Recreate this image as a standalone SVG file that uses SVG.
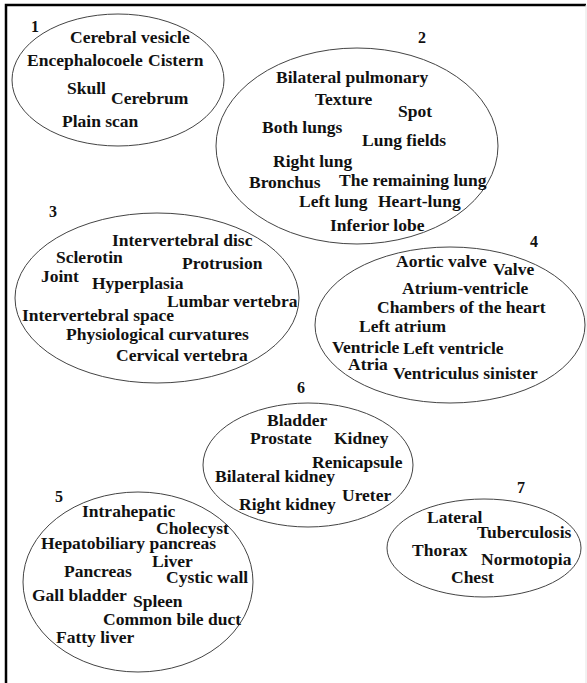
<svg xmlns="http://www.w3.org/2000/svg" width="587" height="683" viewBox="0 0 587 683">
<style>
text{font-family:"Liberation Serif","Times New Roman",serif;font-weight:bold;font-size:17.5px;fill:#111}
.num{font-size:16px}
ellipse{fill:none;stroke:#444;stroke-width:1}
.frame{stroke:#000;stroke-width:2.5;fill:none}
</style>
<rect width="587" height="683" fill="#fff"/>
<path class="frame" d="M6,683 V5 H586"/>
<line x1="586" y1="5" x2="586" y2="683" stroke="#e4e4e4" stroke-width="1"/>
<g id="cluster1">
<ellipse cx="118" cy="80" rx="106" ry="66"/>
<text class="num" x="31" y="32">1</text>
<text x="70" y="43">Cerebral vesicle</text>
<text x="27" y="66">Encephalocoele</text>
<text x="148" y="66">Cistern</text>
<text x="67" y="94">Skull</text>
<text x="111" y="104">Cerebrum</text>
<text x="62" y="127">Plain scan</text>
</g>
<g id="cluster2">
<ellipse cx="357" cy="146" rx="141" ry="98"/>
<text class="num" x="418" y="43">2</text>
<text x="276" y="83">Bilateral pulmonary</text>
<text x="315" y="105">Texture</text>
<text x="398" y="117">Spot</text>
<text x="262" y="133">Both lungs</text>
<text x="362" y="146">Lung fields</text>
<text x="273" y="167">Right lung</text>
<text x="249" y="188">Bronchus</text>
<text x="339" y="186">The remaining lung</text>
<text x="299" y="207">Left lung</text>
<text x="378" y="207">Heart-lung</text>
<text x="330" y="231">Inferior lobe</text>
</g>
<g id="cluster3">
<ellipse cx="157" cy="298" rx="142" ry="85"/>
<text class="num" x="49" y="217">3</text>
<text x="112" y="246">Intervertebral disc</text>
<text x="56" y="263">Sclerotin</text>
<text x="182" y="269">Protrusion</text>
<text x="41" y="282">Joint</text>
<text x="92" y="289">Hyperplasia</text>
<text x="167" y="307">Lumbar vertebra</text>
<text x="22" y="321">Intervertebral space</text>
<text x="66" y="340">Physiological curvatures</text>
<text x="116" y="361">Cervical vertebra</text>
</g>
<g id="cluster4">
<ellipse cx="450" cy="325" rx="135" ry="78"/>
<text class="num" x="530" y="247">4</text>
<text x="396" y="267">Aortic valve</text>
<text x="493" y="275">Valve</text>
<text x="402" y="294">Atrium-ventricle</text>
<text x="377" y="313">Chambers of the heart</text>
<text x="359" y="332">Left atrium</text>
<text x="332" y="353">Ventricle</text>
<text x="403" y="354">Left ventricle</text>
<text x="348" y="370">Atria</text>
<text x="393" y="379">Ventriculus sinister</text>
</g>
<g id="cluster6">
<ellipse cx="308" cy="465" rx="105" ry="62"/>
<text class="num" x="297" y="393">6</text>
<text x="267" y="426">Bladder</text>
<text x="250" y="444">Prostate</text>
<text x="334" y="444">Kidney</text>
<text x="312" y="468">Renicapsule</text>
<text x="215" y="482">Bilateral kidney</text>
<text x="342" y="501">Ureter</text>
<text x="239" y="510">Right kidney</text>
</g>
<g id="cluster5">
<ellipse cx="138" cy="582" rx="115" ry="90"/>
<text class="num" x="55" y="502">5</text>
<text x="82" y="517">Intrahepatic</text>
<text x="156" y="534">Cholecyst</text>
<text x="41" y="549">Hepatobiliary pancreas</text>
<text x="152" y="567">Liver</text>
<text x="64" y="577">Pancreas</text>
<text x="166" y="583">Cystic wall</text>
<text x="32" y="601">Gall bladder</text>
<text x="133" y="607">Spleen</text>
<text x="103" y="625">Common bile duct</text>
<text x="56" y="643">Fatty liver</text>
</g>
<g id="cluster7">
<ellipse cx="484" cy="548" rx="97" ry="49"/>
<text class="num" x="517" y="493">7</text>
<text x="427" y="523">Lateral</text>
<text x="477" y="538">Tuberculosis</text>
<text x="412" y="556">Thorax</text>
<text x="481" y="565">Normotopia</text>
<text x="451" y="583">Chest</text>
</g>
<g id="connectors"></g>
</svg>
